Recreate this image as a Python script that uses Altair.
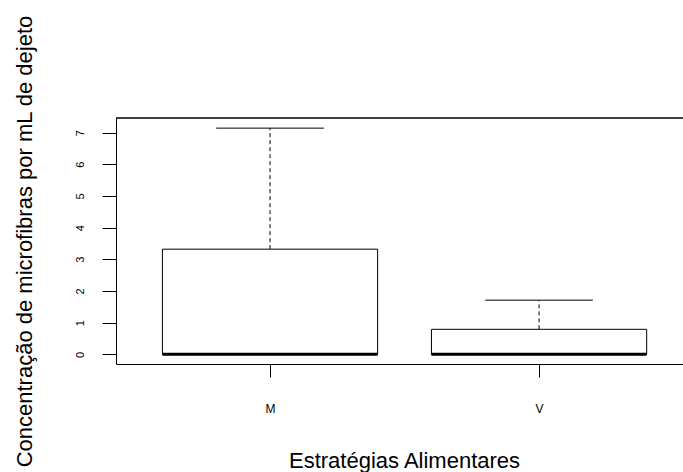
import altair as alt
import pandas as pd

# Data
groups = ["M", "V"]
positions = [1, 2]
lower_whisker = [0.0, 0.0]
q1 = [0.0, 0.0]
median = [0.0, 0.0]
q3 = [3.32, 0.79]
upper_whisker = [7.14, 1.71]
y_ticks = [0, 1, 2, 3, 4, 5, 6, 7]

df = pd.DataFrame({
    "grp": groups, "pos": positions, "lo": lower_whisker, "q1": q1,
    "med": median, "q3": q3, "hi": upper_whisker,
})

FONT = "Liberation Sans"
W, H = 567, 246
x_dom = [0.4275, 2.535]
y_dom = [-0.305, 7.46]

label_expr = " : ".join(
    [f"datum.value == {p} ? '{g}'" for p, g in zip(positions, groups)] + ["''"]
)

xs = alt.Scale(domain=x_dom, nice=False, zero=False)
ys = alt.Scale(domain=y_dom, nice=False, zero=False)

x_axis = alt.Axis(
    values=positions, labelExpr=label_expr, tickSize=13, tickColor="black",
    domain=True, domainColor="black", labelPadding=26, labelFont=FONT,
    labelFontSize=12, labelColor="black", grid=False,
    title="Estratégias Alimentares", titleFont=FONT, titleFontSize=22,
    titleFontWeight="normal", titleColor="black", titleX=288, titleY=103,
    titleBaseline="alphabetic", titleAlign="center", labelFlush=False,
)
y_axis = alt.Axis(
    values=y_ticks, tickSize=14, tickColor="black", domain=True,
    domainColor="black", labelAngle=270, labelAlign="center",
    labelBaseline="alphabetic", labelPadding=19, labelFont=FONT,
    labelFontSize=11, labelColor="black", grid=False, labelFlush=False,
    labelOverlap=False,
    title="Concentração de microfibras por mL de dejeto", titleFont=FONT,
    titleFontSize=22, titleFontWeight="normal", titleColor="black",
    titleAngle=270, titleX=-85, titleY=123, titleAlign="center",
    titleBaseline="alphabetic",
)


def X(field):
    return alt.X(field, type="quantitative", scale=xs, axis=x_axis)


def Y(field):
    return alt.Y(field, type="quantitative", scale=ys, axis=y_axis)


base = alt.Chart(df).transform_calculate(
    bl="datum.pos - 0.4", br="datum.pos + 0.4",
    cl="datum.pos - 0.2", cr="datum.pos + 0.2",
)

whisk_up = base.mark_rule(color="black", strokeWidth=1, strokeDash=[4, 3]).encode(
    x=X("pos"), y=Y("q3"), y2="hi:Q",
)
whisk_dn = base.mark_rule(color="black", strokeWidth=1, strokeDash=[4, 3]).encode(
    x=X("pos"), y=Y("lo"), y2="q1:Q",
)
cap_hi = base.mark_rule(color="black", strokeWidth=1).encode(
    x=X("cl"), x2="cr:Q", y=Y("hi"),
)
cap_lo = base.mark_rule(color="black", strokeWidth=1).encode(
    x=X("cl"), x2="cr:Q", y=Y("lo"),
)
box = base.mark_rect(fill="white", stroke="black", strokeWidth=1).encode(
    x=X("bl"), x2="br:Q", y=Y("q1"), y2="q3:Q",
)
med = base.mark_rule(color="black", strokeWidth=3).encode(
    x=X("bl"), x2="br:Q", y=Y("med"),
)
top_line = alt.Chart(df).mark_rule(color="black", strokeWidth=1).encode(
    x=alt.value(0), x2=alt.value(W), y=alt.value(0),
)

chart = alt.layer(whisk_up, whisk_dn, cap_hi, cap_lo, box, med, top_line).properties(
    width=W, height=H,
    autosize=alt.AutoSizeParams(type="none"),
    padding={"left": 116, "top": 118, "right": 0, "bottom": 472 - 118 - H},
    background="white",
).configure_view(stroke=None)

chart.save("out.html", embed_options={"renderer": "svg", "actions": False})
